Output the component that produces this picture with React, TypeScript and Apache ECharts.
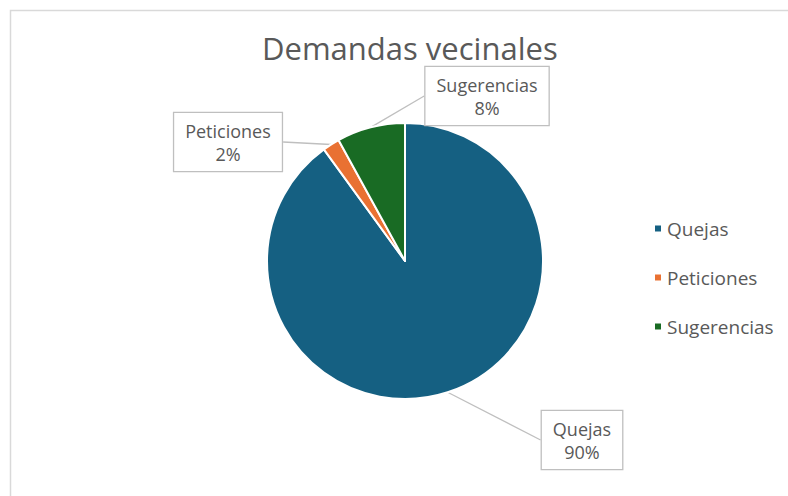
import React, { useEffect, useRef } from "react";
import * as echarts from "echarts";

const categories = ["Quejas", "Peticiones", "Sugerencias"];
const values = [90, 2, 8];
const colors = ["#156082", "#E97132", "#196B24"];
const titleText = "Demandas vecinales";

// label box centres (layout only)
const labelCenters = [
  [582, 440],
  [228, 142],
  [487, 96],
];

export default function App() {
  const ref = useRef<HTMLDivElement>(null);
  useEffect(() => {
    document.body.style.margin = "0";
    const chart = echarts.init(ref.current!, undefined, { renderer: "svg" });
    const font = "Open Sans, Noto Sans, sans-serif";
    chart.setOption({
      animation: false,
      backgroundColor: "#ffffff",
      title: {
        text: titleText,
        left: 257,
        top: 27,
        textStyle: { fontSize: 31, fontWeight: "normal", color: "#595959", fontFamily: font },
      },
      graphic: [
        {
          type: "rect",
          shape: { x: 10.5, y: 10.5, width: 800, height: 500 },
          style: { fill: "none", stroke: "#d9d9d9", lineWidth: 1.5 },
          silent: true,
        },
      ],
      legend: {
        orient: "vertical",
        left: 648,
        top: 214,
        itemWidth: 8,
        itemHeight: 8,
        itemGap: 30,
        icon: "rect",
        textStyle: { fontSize: 19, color: "#595959", fontFamily: font, lineHeight: 19 },
        data: categories,
      },
      series: [
        {
          type: "pie",
          center: [405, 261],
          radius: 138,
          startAngle: 90,
          clockwise: true,
          data: categories.map((c, i) => ({
            name: c,
            value: values[i],
            itemStyle: { color: colors[i] },
          })),
          itemStyle: { borderColor: "#ffffff", borderWidth: 2 },
          label: {
            show: true,
            formatter: (p: any) => `${p.name}\n${Math.round(p.percent)}%`,
            color: "#595959",
            fontSize: 18,
            lineHeight: 23,
            fontFamily: font,
            align: "center",
            backgroundColor: "#ffffff",
            borderColor: "#bfbfbf",
            borderWidth: 1.3,
            padding: [6, 11],
          },
          labelLine: {
            show: true,
            length: 10,
            length2: 0,
            lineStyle: { color: "#bfbfbf", width: 1.3 },
          },
          labelLayout: (params: any) => {
            const c = labelCenters[params.dataIndex];
            return { x: c[0], y: c[1], align: "center", verticalAlign: "middle" };
          },
          emphasis: { disabled: true },
        },
      ],
    });
    return () => chart.dispose();
  }, []);
  return <div ref={ref} style={{ width: 788, height: 496 }} />;
}
